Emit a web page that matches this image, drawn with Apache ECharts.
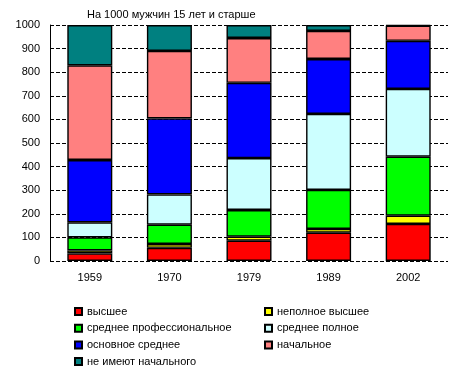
<!DOCTYPE html>
<html>
<head>
<meta charset="utf-8">
<script src="https://cdn.jsdelivr.net/npm/echarts@6/dist/echarts.min.js"></script>
<style>html,body{margin:0;padding:0;background:#fff}#c{width:464px;height:377px}</style>
</head>
<body>
<div id="c"></div>
<script>
var years = ['1959', '1970', '1979', '1989', '2002'];
var seriesNames = ['высшее', 'неполное высшее', 'среднее профессиональное', 'среднее полное', 'основное среднее', 'начальное', 'не имеют начального'];
var vysshee = [32, 56, 86, 120, 157];
var nepolnoeVysshee = [13, 16, 17, 16, 35];
var sredneeProf = [55, 82, 113, 165, 250];
var sredneePolnoe = [64, 128, 220, 322, 287];
var osnovnoeSrednee = [264, 322, 319, 233, 204];
var nachalnoe = [401, 286, 190, 119, 64];
var neImeyut = [171, 110, 55, 25, 3];
var titleText = 'На 1000 мужчин 15 лет и старше';

var colors = ['#FF0000', '#FFFF00', '#00FF00', '#CCFFFF', '#0000FF', '#FF8080', '#008080'];
var dataArr = [vysshee, nepolnoeVysshee, sredneeProf, sredneePolnoe, osnovnoeSrednee, nachalnoe, neImeyut];
var font = 'Arial, "Liberation Sans", sans-serif';

var series = seriesNames.map(function (n, i) {
  return {
    name: n, type: 'bar', stack: 'total', barWidth: 45,
    data: dataArr[i],
    itemStyle: { color: colors[i], borderColor: '#000', borderWidth: 1.4 }
  };
});

var chart = echarts.init(document.getElementById('c'), null, { renderer: 'canvas' });
chart.setOption({
  animation: false,
  textStyle: { fontFamily: font },
  title: { text: titleText, left: 82, top: 4, textStyle: { fontSize: 11, fontWeight: 'normal', color: '#000', fontFamily: font } },
  grid: { left: 50, right: 16, top: 25, bottom: 116 },
  legend: [
    { orient: 'vertical', left: 69, top: 301, itemWidth: 7, itemHeight: 7, itemGap: 5.7, icon: 'rect',
      data: [seriesNames[0], seriesNames[2], seriesNames[4], seriesNames[6]],
      textStyle: { fontSize: 11, color: '#000', fontFamily: font } },
    { orient: 'vertical', left: 259, top: 301, itemWidth: 7, itemHeight: 7, itemGap: 5.7, icon: 'rect',
      data: [seriesNames[1], seriesNames[3], seriesNames[5]],
      textStyle: { fontSize: 11, color: '#000', fontFamily: font } }
  ],
  xAxis: {
    type: 'category', data: years,
    axisLine: { show: false }, axisTick: { show: false },
    axisLabel: { fontSize: 11, color: '#000', margin: 11, fontFamily: font }
  },
  yAxis: {
    type: 'value', min: 0, max: 1000, interval: 100,
    axisLine: { show: true, lineStyle: { color: '#000', width: 1 } },
    axisTick: { show: false },
    axisLabel: { fontSize: 11, color: '#000', margin: 10, fontFamily: font, formatter: function (v) { return String(v); } },
    splitLine: { show: true, lineStyle: { color: '#000', type: [4, 2], width: 1 } }
  },
  series: series
});
</script>
</body>
</html>
